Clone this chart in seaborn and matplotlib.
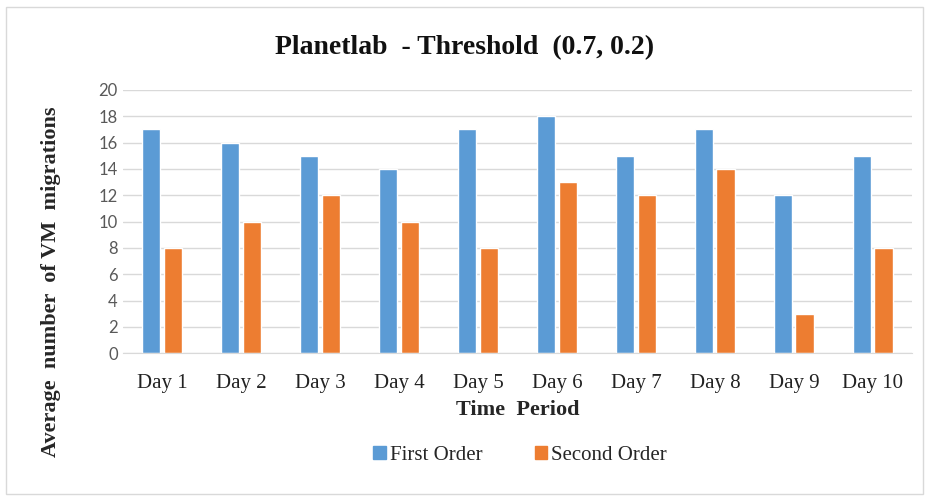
import pandas as pd
import matplotlib.pyplot as plt
import seaborn as sns
from matplotlib.patches import Rectangle

# Veriler
days = ['Day 1', 'Day 2', 'Day 3', 'Day 4', 'Day 5', 'Day 6', 'Day 7', 'Day 8', 'Day 9', 'Day 10']
first_order = [17, 16, 15, 14, 17, 18, 15, 17, 12, 15]
second_order = [8, 10, 12, 10, 8, 13, 12, 14, 3, 8]
series = ['First Order', 'Second Order']
colors = ['#5B9BD5', '#ED7D31']

df = pd.DataFrame({
    'day': days * 2,
    'value': first_order + second_order,
    'order': [series[0]] * len(days) + [series[1]] * len(days),
})

sns.set_style('white')
serif = ['Liberation Serif', 'DejaVu Serif']

fig = plt.figure(figsize=(9.29, 4.99), dpi=100)
ax = fig.add_axes([0.132, 0.292, 0.85, 0.528])

sns.barplot(data=df, x='day', y='value', hue='order', palette=colors,
            width=0.55, gap=0.15, ax=ax, legend=False, saturation=1)

ax.set_ylim(0, 20)
ax.set_yticks(range(0, 21, 2))
ax.set_xlim(-0.5, len(days) - 0.5)
ax.yaxis.grid(True, color='#d9d9d9', linewidth=1)
ax.set_axisbelow(True)
for s in ['top', 'right', 'left']:
    ax.spines[s].set_visible(False)
ax.spines['bottom'].set_color('#d9d9d9')
ax.tick_params(axis='both', length=0)
ax.tick_params(axis='x', pad=15)
for lbl in ax.get_yticklabels():
    lbl.set_fontfamily(['Lato', 'DejaVu Sans'])
    lbl.set_fontsize(12)
    lbl.set_color('#595959')
for lbl in ax.get_xticklabels():
    lbl.set_fontfamily(serif)
    lbl.set_fontsize(15)
    lbl.set_color('#222222')

ax.set_xlabel('Time  Period', fontfamily=serif, fontsize=16, fontweight='bold', labelpad=5)
ax.set_ylabel('Average  number  of VM  migrations', fontfamily=serif, fontsize=16,
              fontweight='bold')
ax.yaxis.set_label_coords(-0.078, 0.27)

fig.text(0.5, 0.905, 'Planetlab  - Threshold  (0.7, 0.2)', ha='center', va='center',
         fontfamily=serif, fontsize=20, fontweight='bold', color='#111111')

handles = [Rectangle((0, 0), 1, 1, color=c) for c in colors]
fig.legend(handles, series, loc='center', bbox_to_anchor=(0.56, 0.088), ncol=2,
           frameon=False, prop={'family': serif, 'size': 15}, handlelength=0.6,
           handleheight=0.6, columnspacing=2.5, handletextpad=0.2)

# Çerçeve
fig.patches.append(Rectangle((0.006, 0.01), 0.988, 0.975, transform=fig.transFigure,
                             fill=False, edgecolor='#d9d9d9', linewidth=1))

plt.savefig('out.png', dpi=100)
